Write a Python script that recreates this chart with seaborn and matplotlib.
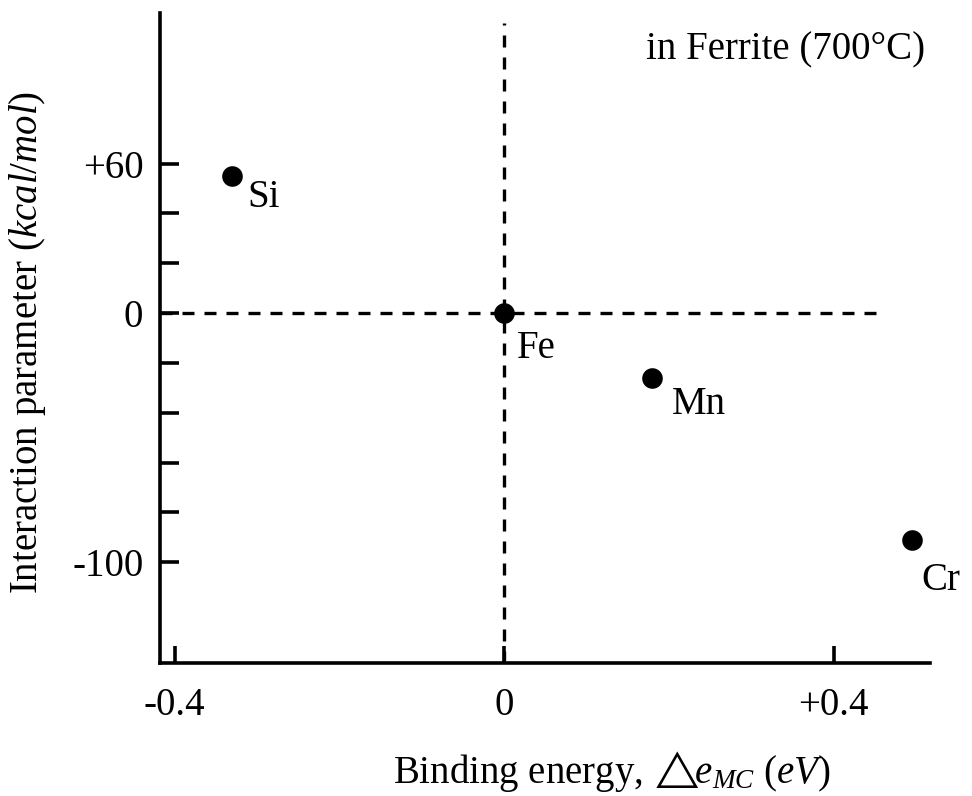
import matplotlib
matplotlib.use("Agg")
import matplotlib.pyplot as plt
import seaborn as sns
import pandas as pd
from matplotlib.ticker import FixedLocator, FixedFormatter

# Solute elements in ferrite at 700 °C
elements = ["Si", "Fe", "Mn", "Cr"]
binding_energy = [-0.33, 0.0, 0.18, 0.495]     # eV
interaction_param = [55, 0, -26, -91]          # kcal/mol

x_ticks = [-0.4, 0.0, 0.4]
x_tick_labels = ["-0.4", "0", "+0.4"]
y_ticks = [60, 40, 20, 0, -20, -40, -60, -80, -100]
y_tick_labels = ["+60", "", "", "0", "", "", "", "", "-100"]

# label offsets (points) from each marker
label_offsets = {"Si": (11, -22), "Fe": (9, -32), "Mn": (14, -26), "Cr": (7, -36)}

df = pd.DataFrame({"element": elements, "dE": binding_energy, "W": interaction_param})

sns.set_style("ticks")
plt.rcParams["font.family"] = ["Liberation Serif", "DejaVu Serif"]
plt.rcParams["mathtext.fontset"] = "custom"
plt.rcParams["mathtext.rm"] = "Liberation Serif"
plt.rcParams["mathtext.it"] = "Liberation Serif:italic"
plt.rcParams["mathtext.fallback"] = "stix"
for key in ("text.color", "axes.labelcolor", "xtick.color", "ytick.color", "axes.edgecolor"):
    plt.rcParams[key] = "black"

FS = 28

fig = plt.figure(figsize=(9.72, 7.96), dpi=100)
ax = fig.add_axes([160 / 972, 133 / 796, 770 / 972, 650 / 796])

ax.set_xlim(-0.4176, 0.517)
ax.set_ylim(-140.4, 120.4)

lw = 2.6
dlw = 2.4
dash = (3.6, 3.0)
# reference lines through the Fe origin
ax.plot([ax.get_xlim()[0], 0.462], [0, 0], color="black", lw=dlw, dashes=dash, zorder=1)
ax.plot([0, 0], [-140.4, 116.4], color="black", lw=dlw, dashes=dash, zorder=1)

sns.scatterplot(data=df, x="dE", y="W", ax=ax, color="black", s=220,
                edgecolor="black", linewidth=0, zorder=3, legend=False)

for el, x, y in zip(elements, binding_energy, interaction_param):
    dx, dy = label_offsets[el]
    ax.annotate(el, (x, y), xytext=(dx, dy), textcoords="offset points",
                fontsize=FS, ha="left", va="baseline")

for side in ("top", "right"):
    ax.spines[side].set_visible(False)
for side in ("left", "bottom"):
    ax.spines[side].set_linewidth(lw)

ax.xaxis.set_major_locator(FixedLocator(x_ticks))
ax.xaxis.set_major_formatter(FixedFormatter(x_tick_labels))
ax.yaxis.set_major_locator(FixedLocator(y_ticks))
ax.yaxis.set_major_formatter(FixedFormatter(y_tick_labels))
ax.tick_params(axis="both", direction="in", width=lw, labelsize=FS)
ax.tick_params(axis="y", length=14, pad=12)
ax.tick_params(axis="x", length=12, pad=17)

ax.set_xlabel(r"Binding energy, $\!\triangle\!\!e_{MC}\ (eV)$", fontsize=FS)
ax.xaxis.set_label_coords(0.587, -0.132)
ax.set_ylabel(r"Interaction parameter $(kcal/mol)$", fontsize=FS)
ax.yaxis.set_label_coords(-0.145, 0.494)

ax.text(0.9935, 0.943, "in Ferrite (700°C)", transform=ax.transAxes,
        fontsize=FS, ha="right", va="center")

fig.savefig("out.png", dpi=100)
